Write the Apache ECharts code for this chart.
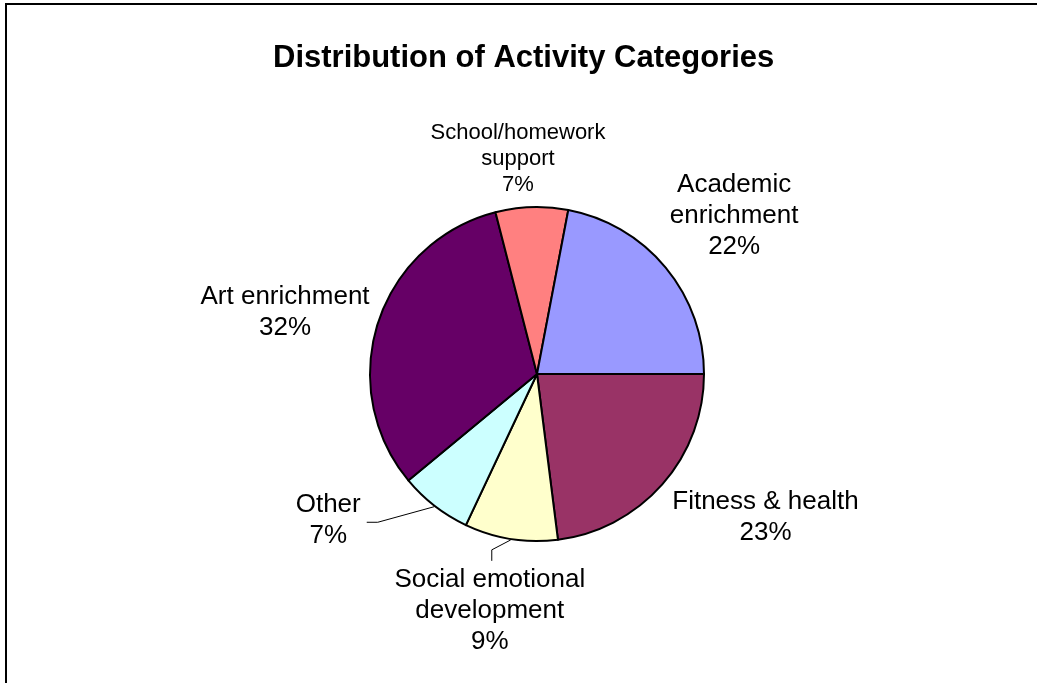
<!DOCTYPE html>
<html>
<head>
<meta charset="utf-8">
<title>Distribution of Activity Categories</title>
<script src="https://cdn.jsdelivr.net/npm/echarts@6/dist/echarts.min.js"></script>
<style>
  html, body { margin: 0; padding: 0; background: #fff; }
  #chart { width: 1037px; height: 683px; }
</style>
</head>
<body>
<div id="chart"></div>
<script>
// Activity categories, listed clockwise starting at 3 o'clock
const categories = [
  'Fitness & health',
  'Social emotional\ndevelopment',
  'Other',
  'Art enrichment',
  'School/homework\nsupport',
  'Academic\nenrichment'
];
// Share of activities in each category (%)
const shares = [23, 9, 7, 32, 7, 22];
const sliceColors = ['#993366', '#FFFFCC', '#CCFFFF', '#660066', '#FF8080', '#9999FF'];

// Label placement: small nudges from the computed outside anchor, and
// which side of the label a leader line attaches to ('' = no leader)
const labelNudge = [[4, -3], [10, 17], [-69, -23], [-1, 12], [-8, -1], [-2, 0]];
const leaderSide = ['', 'top', 'right', '', '', ''];

const FONT = "'Liberation Sans', Arial, Helvetica, sans-serif";
const CX = 537, CY = 374, R = 167;

const total = shares.reduce((a, b) => a + b, 0);
function midAngle(i) {
  let start = 0;
  for (let k = 0; k < i; k++) start += shares[k] / total * 360;
  return (start + shares[i] / total * 180) * Math.PI / 180;
}
const clamp = v => Math.max(-1, Math.min(1, v));

const chart = echarts.init(document.getElementById('chart'), null, { renderer: 'canvas' });

chart.setOption({
  backgroundColor: '#fff',
  animation: false,
  title: {
    text: 'Distribution of Activity Categories',
    left: 273,
    top: 43,
    padding: 0,
    textStyle: { fontFamily: FONT, fontSize: 31, fontWeight: 'bold', color: '#000' }
  },
  graphic: [{
    type: 'rect',
    shape: { x: 6, y: 4, width: 1200, height: 900 },
    style: { fill: 'none', stroke: '#000', lineWidth: 2 },
    silent: true
  }],
  series: [{
    type: 'pie',
    center: [CX, CY],
    radius: R,
    startAngle: 0,
    clockwise: true,
    avoidLabelOverlap: false,
    itemStyle: { borderColor: '#000', borderWidth: 2 },
    label: {
      show: true,
      position: 'outside',
      fontFamily: FONT,
      fontSize: 26,
      lineHeight: 31,
      color: '#000',
      align: 'center',
      formatter: p => p.name + '\n' + Math.round(p.percent) + '%'
    },
    labelLine: { show: false, lineStyle: { color: '#000', width: 1 } },
    emphasis: { disabled: true },
    data: categories.map((name, i) => {
      const item = {
        name: name,
        value: shares[i],
        itemStyle: { color: sliceColors[i] },
        labelLine: { show: leaderSide[i] !== '' }
      };
      if (name.startsWith('School')) item.label = { fontSize: 22, lineHeight: 26 };
      return item;
    }),
    labelLayout: function (params) {
      const i = params.dataIndex;
      const a = midAngle(i);
      const dx = Math.cos(a), dy = Math.sin(a);
      const w = params.labelRect.width, h = params.labelRect.height;
      const ax = CX + (R + 8) * dx, ay = CY + (R + 8) * dy;
      const x = ax + clamp(dx * 2) * w / 2 + labelNudge[i][0];
      const y = ay + clamp(dy * 2) * h / 2 + labelNudge[i][1];
      const out = { x: x, y: y, align: 'center', verticalAlign: 'middle' };
      const edge = [CX + (R + 1) * dx, CY + (R + 1) * dy];
      if (leaderSide[i] === 'right') {
        const end = [x + w / 2 + 6, y + 2];
        out.labelLinePoints = [edge, [end[0] + 11, end[1]], end];
      } else if (leaderSide[i] === 'top') {
        const end = [x + 2, y - h / 2 - 3];
        out.labelLinePoints = [edge, [end[0], end[1] - 11], end];
      }
      return out;
    }
  }]
});
</script>
</body>
</html>
